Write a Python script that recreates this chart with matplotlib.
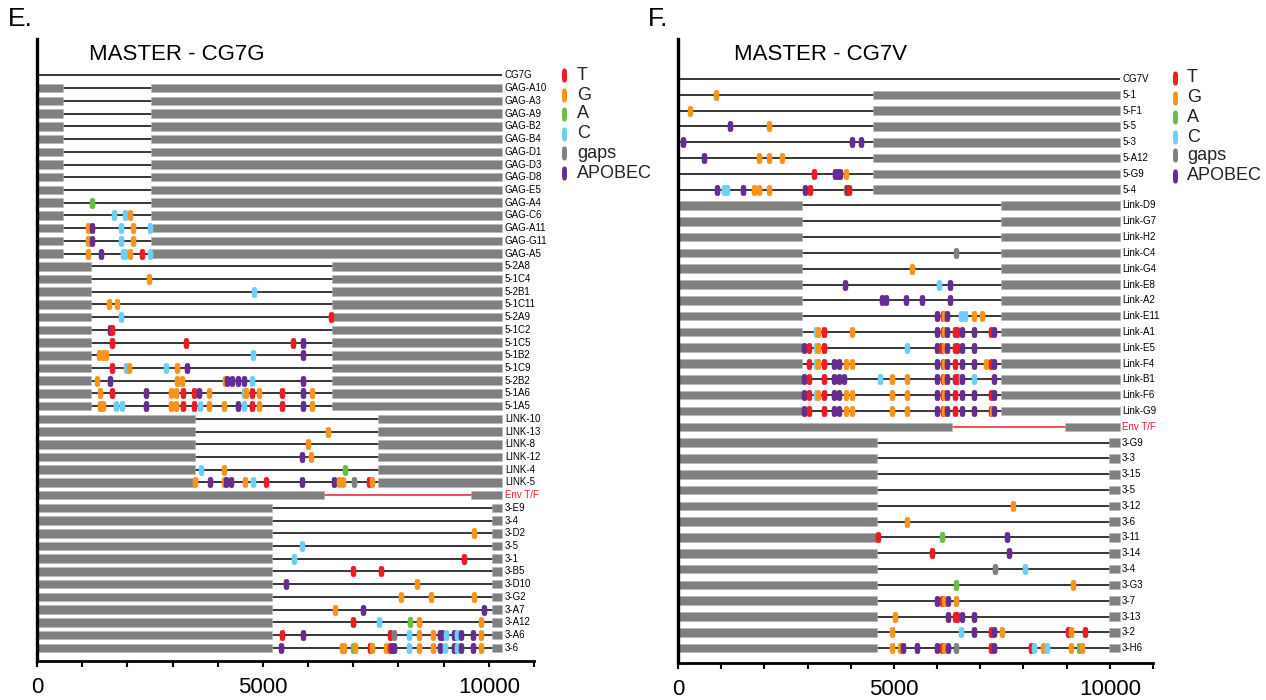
import matplotlib
matplotlib.use('Agg')
import matplotlib.pyplot as plt
import numpy as np
from matplotlib.path import Path
from matplotlib.lines import Line2D

plt.rcParams['font.family'] = ['Liberation Sans', 'DejaVu Sans']

# ---- colours of the mutation types ----
MUT_COLORS = {'T': '#ed1c24', 'G': '#f7941d', 'A': '#6cbd45', 'C': '#6dcff6',
              'N': '#808080', 'P': '#662d91'}
LEGEND_CODES = ['T', 'G', 'A', 'C', 'N', 'P']
LEGEND_NAMES = ['T', 'G', 'A', 'C', 'gaps', 'APOBEC']
GAP_GRAY = '#808080'
ENV_RED = '#ed1c24'

# ---- panel E : MASTER - CG7G ----
E_LENGTH = 10300
E_ROWS = ['CG7G',
          'GAG-A10', 'GAG-A3', 'GAG-A9', 'GAG-B2', 'GAG-B4', 'GAG-D1', 'GAG-D3',
          'GAG-D8', 'GAG-E5', 'GAG-A4', 'GAG-C6', 'GAG-A11', 'GAG-G11', 'GAG-A5',
          '5-2A8', '5-1C4', '5-2B1', '5-1C11', '5-2A9', '5-1C2', '5-1C5', '5-1B2',
          '5-1C9', '5-2B2', '5-1A6', '5-1A5',
          'LINK-10', 'LINK-13', 'LINK-8', 'LINK-12', 'LINK-4', 'LINK-5',
          'Env T/F',
          '3-E9', '3-4', '3-D2', '3-5', '3-1', '3-B5', '3-D10', '3-G2', '3-A7',
          '3-A12', '3-A6', '3-6']
E_GAPS = {'ref': [], 'gag': [(0, 570), (2515, 10300)],
          '5': [(0, 1200), (6530, 10300)], 'link': [(0, 3490), (7540, 10300)],
          'env': [(0, 6350), (9600, 10300)], '3': [(0, 5210), (10065, 10300)]}

E_GAG_MUT = {
    'GAG-A4': 'A1210',
    'GAG-C6': 'C1714 C1938 G2051',
    'GAG-A11': 'G1133 P1227 C1863 G2116 C2509',
    'GAG-G11': 'G1133 P1227 C1863 G2116',
    'GAG-A5': 'G1129 P1421 C1894 C1950 G2060 T2313 C2505',
}
E_5_MUT = {
    '5-1C4': 'G2470',
    '5-2B1': 'C4800',
    '5-1C11': 'G1594 G1760',
    '5-2A9': 'C1870 T6500',
    '5-1C2': 'P1615 T1660',
    '5-1C5': 'T1660 T3289 T5664 P5878',
    '5-1B2': 'G1380 G1460 G1530 C4772 P5878',
    '5-1C9': 'T1660 C1962 G2042 C2847 G3090 P3319',
    '5-2B2': 'G1327 P1615 G3090 G3215 G4167 P4204 P4307 P4454 P4587 C4764 P5878',
    '5-1A6': 'G1401 T1660 P2412 G2957 G3075 T3237 T3480 P3584 G3805 C4587 G4617 '
             'T4764 G4904 T5413 P5878 G6077',
    '5-1A5': 'G1400 G1470 C1748 C1881 P2412 G2957 G3075 T3237 T3480 C3614 G3805 '
             'G4145 P4454 C4580 T4764 G4904 T5413 P5878 G6077',
}
E_LINK_MUT = {
    'LINK-13': 'G6449',
    'LINK-8': 'G5999',
    'LINK-12': 'P5872 G6062',
    'LINK-4': 'C3623 G4144 A6812',
    'LINK-5': 'G3497 P3820 G4144 P4183 P4302 G4609 C4775 T5075 P5872 P6567 G6685 '
              'G6764 N7009 T7356 G7411',
}
E_3_MUT = {
    '3-D2': 'G9661',
    '3-5': 'C5857',
    '3-1': 'C5683 T9440',
    '3-B5': 'T6985 T7609',
    '3-D10': 'P5509 G8414',
    '3-G2': 'G8067 G8722 G9661',
    '3-A7': 'G6600 P7220 P9889',
    '3-A12': 'T6984 C7566 A8245 G8444 G9830',
    '3-A6': 'T5420 P5878 T7810 N7898 C8237 G8444 G8761 P8916 P8967 C9042 P9233 '
            'C9292 P9374 P9646 G9830',
    '3-6': 'P5398 G6748 G6799 A6991 G7043 T7367 G7404 G7728 T7810 P7862 P7906 '
           'C8237 G8444 G8761 P8923 C9027 P9233 C9285 P9374 P9653 G9830',
}

# ---- panel F : MASTER - CG7V ----
F_LENGTH = 10230
F_ROWS = ['CG7V',
          '5-1', '5-F1', '5-5', '5-3', '5-A12', '5-G9', '5-4',
          'Link-D9', 'Link-G7', 'Link-H2', 'Link-C4', 'Link-G4', 'Link-E8',
          'Link-A2', 'Link-E11', 'Link-A1', 'Link-E5', 'Link-F4', 'Link-B1',
          'Link-F6', 'Link-G9',
          'Env T/F',
          '3-G9', '3-3', '3-15', '3-5', '3-12', '3-6', '3-11', '3-14', '3-4',
          '3-G3', '3-7', '3-13', '3-2', '3-H6']
F_GAPS = {'ref': [], '5': [(4520, 10230)], 'link': [(0, 2880), (7475, 10230)],
          'env': [(0, 6355), (8965, 10230)], '3': [(0, 4600), (9985, 10230)]}

F_5_MUT = {
    '5-1': 'G887',
    '5-F1': 'G285',
    '5-5': 'P1196 G2114',
    '5-3': 'P108 P4035 P4228',
    '5-A12': 'P602 G1867 G2114 G2415',
    '5-G9': 'T3148 P3642 P3700 P3758 G3896',
    '5-4': 'P903 C1072 C1142 P1512 G1759 G1867 G2114 P2947 T3049 G3882 P3910 T3951',
}
F_LINK_MUT = {
    'Link-C4': 'N6432',
    'Link-G4': 'G5429',
    'Link-E8': 'P3861 C6046 P6309',
    'Link-A2': 'P4734 P4811 P5290 P5645 P6309',
    'Link-E11': 'P5992 T6131 G6162 P6239 C6564 C6649 G6857 G7050',
    'Link-A1': 'C3189 G3243 T3375 G4039 P5992 T6131 G6162 P6239 T6417 T6456 P6587 '
               'P6849 T7243 P7313',
    'Link-E5': 'P2927 T3035 C3205 G3251 T3375 C5313 P5992 T6100 G6162 P6239 T6417 '
               'T6456 P6587 P6849',
    'Link-F4': 'T3035 C3205 G3251 T3375 P3614 P3730 G3884 G4023 P5992 T6131 G6162 '
               'P6239 T6417 P6587 P6849 G7127 T7259 P7320',
    'Link-B1': 'P2927 T3035 T3375 P3614 P3730 P3853 C4687 G4965 G5305 P5992 T6131 '
               'G6162 P6239 T6417 T6456 C6556 P6587 C6865 P7313',
    'Link-F6': 'P2927 T3035 C3205 G3251 T3375 P3614 P3730 G3884 G4023 G4965 G5305 '
               'P5992 T6131 G6162 P6239 T6417 P6587 P6849 T7243 P7313',
    'Link-G9': 'P2927 T3035 T3375 P3614 P3730 G3884 G4023 G4965 G5305 P5992 T6131 '
               'G6162 P6239 T6417 P6587 P6849 T7243 G7282 P7320',
}
F_3_MUT = {
    '3-12': 'G7761',
    '3-6': 'G5305',
    '3-11': 'T4626 A6108 P7622',
    '3-14': 'T5892 P7668',
    '3-4': 'N7344 C8031',
    '3-G3': 'A6440 G9151',
    '3-7': 'P5992 T6124 G6162 P6247 G6432',
    '3-13': 'G5027 P6247 T6417 T6456 P6587 P6849',
    '3-2': 'G4965 C6564 P6849 T7251 P7313 G7514 T9020 G9104 T9429',
    '3-H6': 'G4965 G5151 P5205 P5529 P5992 T6124 G6162 P6247 N6432 T7251 P7313 '
            'T8185 C8255 G8456 C8556 G9104 A9290 G9352',
}


def pill(ratio):
    # rounded vertical bar used as the mutation marker
    t = np.linspace(0, 2 * np.pi, 60)
    x = ratio * np.sign(np.cos(t)) * np.abs(np.cos(t)) ** 0.6
    y = np.sign(np.sin(t)) * np.abs(np.sin(t)) ** 0.6
    return Path(np.column_stack([x, y]))


MARK = pill(0.52)
LEG_MARK = pill(0.36)


def group_of(name):
    if name.startswith('GAG'):
        return 'gag'
    if name.startswith('5-'):
        return '5'
    if name.lower().startswith('link'):
        return 'link'
    if name.startswith('3-'):
        return '3'
    if name.startswith('Env'):
        return 'env'
    return 'ref'


def draw_panel(ax, rows, gaps, muts, length, bar_h, ylim):
    for i, name in enumerate(rows):
        g = group_of(name)
        col = ENV_RED if g == 'env' else 'black'
        ax.plot([0, length], [i, i], color=col, lw=1.1, zorder=1,
                solid_capstyle='butt')
        for a, b in gaps[g]:
            ax.barh(i, b - a, left=a, height=bar_h, color=GAP_GRAY,
                    edgecolor='#b5b5b5', linewidth=0.4, zorder=2)
        for code in muts.get(name, '').split():
            ax.plot(int(code[1:]), i, marker=MARK, ms=7.8, ls='none',
                    color=MUT_COLORS[code[0]], mew=0, zorder=3)
        ax.text(length + 55, i, name, fontsize=7, va='center', ha='left',
                color=col)

    ax.set_xlim(0, 11000)
    ax.set_ylim(*ylim)
    ax.set_yticks([])
    ax.set_xticks([0, 5000, 10000])
    ax.set_xticks(np.arange(0, 11001, 1000), minor=True)
    ax.tick_params(axis='x', which='both', direction='out', length=4.5,
                   width=1.5, labelsize=16, pad=7)
    for s in ['top', 'right']:
        ax.spines[s].set_visible(False)
    ax.spines['left'].set_linewidth(2.4)
    ax.spines['bottom'].set_linewidth(2.0)
    ax.patch.set_alpha(0)


W, H = 1266, 700
fig = plt.figure(figsize=(W / 100, H / 100), dpi=100)

axE = fig.add_axes([37 / W, 1 - 661 / H, 497 / W, 622 / H])
draw_panel(axE, E_ROWS, E_GAPS, {**E_GAG_MUT, **E_5_MUT, **E_LINK_MUT, **E_3_MUT},
           E_LENGTH, 0.67, (46.04, -2.87))

axF = fig.add_axes([678 / W, 1 - 663 / H, 475 / W, 624 / H])
draw_panel(axF, F_ROWS, F_GAPS, {**F_5_MUT, **F_LINK_MUT, **F_3_MUT},
           F_LENGTH, 0.54, (36.94, -2.53))

# panel letters and titles
fig.text(8 / W, 1 - 19 / H, 'E.', fontsize=19, va='center', ha='left')
fig.text(648 / W, 1 - 19 / H, 'F.', fontsize=19, va='center', ha='left')
fig.text(89 / W, 1 - 55 / H, 'MASTER - CG7G', fontsize=16, va='center', ha='left')
fig.text(734 / W, 1 - 55 / H, 'MASTER - CG7V', fontsize=16, va='center', ha='left')

# legends
for mx, tx, ys in [(564, 577, [75, 95, 114, 134, 153, 173]),
                   (1175, 1187, [78, 98, 117, 137, 155, 176])]:
    for code, label, y in zip(LEGEND_CODES, LEGEND_NAMES, ys):
        fig.add_artist(Line2D([mx / W], [1 - y / H], marker=LEG_MARK, ms=10,
                              ls='none', color=MUT_COLORS[code], mew=0,
                              transform=fig.transFigure))
        fig.text(tx / W, 1 - y / H, label, fontsize=13, va='center', ha='left',
                 color='#222222')

fig.savefig('out.png', dpi=100)
